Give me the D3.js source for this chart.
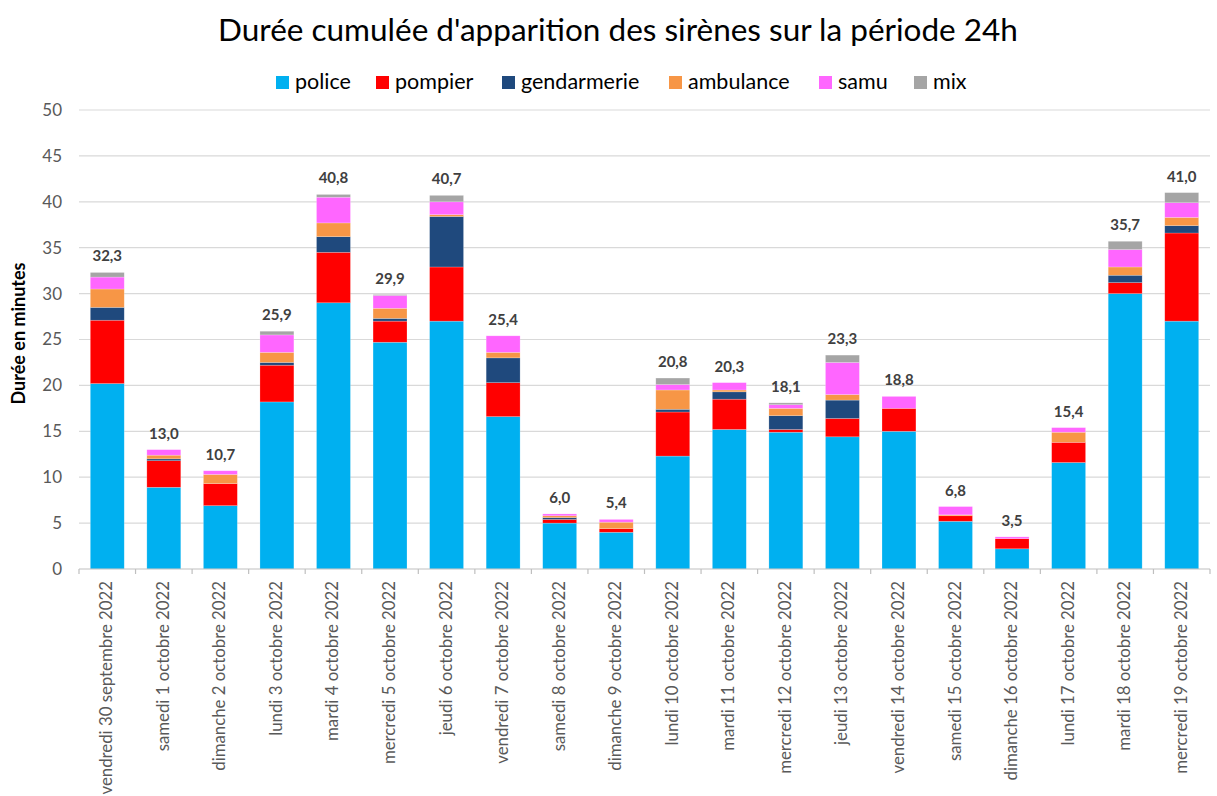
<!DOCTYPE html>
<html>
<head>
<meta charset="utf-8">
<script src="https://cdn.jsdelivr.net/npm/d3@7"></script>
<style>
  html, body { margin: 0; padding: 0; background: #fff; }
  svg { display: block; font-family: Lato, "Open Sans", sans-serif; }
</style>
</head>
<body>
<svg id="chart" width="1217" height="796"></svg>
<script>
const categories = [
  "vendredi 30 septembre 2022", "samedi 1 octobre 2022", "dimanche 2 octobre 2022",
  "lundi 3 octobre 2022", "mardi 4 octobre 2022", "mercredi 5 octobre 2022",
  "jeudi 6 octobre 2022", "vendredi 7 octobre 2022", "samedi 8 octobre 2022",
  "dimanche 9 octobre 2022", "lundi 10 octobre 2022", "mardi 11 octobre 2022",
  "mercredi 12 octobre 2022", "jeudi 13 octobre 2022", "vendredi 14 octobre 2022",
  "samedi 15 octobre 2022", "dimanche 16 octobre 2022", "lundi 17 octobre 2022",
  "mardi 18 octobre 2022", "mercredi 19 octobre 2022"
];
const seriesNames = ["police", "pompier", "gendarmerie", "ambulance", "samu", "mix"];
const police      = [20.2, 8.9, 6.9, 18.2, 29.0, 24.7, 27.0, 16.6, 5.0, 4.0, 12.3, 15.2, 14.9, 14.4, 15.0, 5.2, 2.2, 11.6, 30.0, 27.0];
const pompier     = [6.9, 2.9, 2.4, 4.0, 5.5, 2.3, 5.9, 3.7, 0.4, 0.4, 4.8, 3.3, 0.3, 2.0, 2.5, 0.6, 1.1, 2.2, 1.2, 9.6];
const gendarmerie = [1.4, 0.2, 0.0, 0.3, 1.7, 0.3, 5.5, 2.7, 0.2, 0.0, 0.3, 0.8, 1.5, 2.0, 0.0, 0.0, 0.0, 0.0, 0.8, 0.8];
const ambulance   = [2.0, 0.4, 1.0, 1.1, 1.5, 1.1, 0.2, 0.6, 0.2, 0.7, 2.1, 0.2, 0.8, 0.6, 0.0, 0.1, 0.0, 1.1, 0.9, 0.9];
const samu        = [1.3, 0.6, 0.4, 1.9, 2.8, 1.4, 1.4, 1.8, 0.2, 0.3, 0.6, 0.8, 0.4, 3.5, 1.3, 0.9, 0.2, 0.5, 1.9, 1.6];
const mix         = [0.5, 0.0, 0.0, 0.4, 0.3, 0.1, 0.7, 0.0, 0.0, 0.0, 0.7, 0.0, 0.2, 0.8, 0.0, 0.0, 0.0, 0.0, 0.9, 1.1];
const yTicks = [0, 5, 10, 15, 20, 25, 30, 35, 40, 45, 50];
const colors = ["#00B0F0", "#FF0000", "#1F497D", "#F79646", "#FF66FF", "#A5A5A5"];
const titleText = "Durée cumulée d'apparition des sirènes sur la période 24h";
const yTitle = "Durée en minutes";

const seriesValues = [police, pompier, gendarmerie, ambulance, samu, mix];
const rows = categories.map((c, i) => {
  const r = { cat: c };
  seriesNames.forEach((s, j) => r[s] = seriesValues[j][i]);
  return r;
});
const totals = categories.map((c, i) => d3.sum(seriesValues, s => s[i]));

const svg = d3.select("#chart");
const pLeft = 79, pRight = 1210, pTop = 110, pBottom = 569;

const x = d3.scaleBand().domain(categories).range([pLeft, pRight]).paddingInner(0.4).paddingOuter(0.2);
const y = d3.scaleLinear().domain([0, 50]).range([pBottom, pTop]);

// grid
svg.append("g").selectAll("line").data(yTicks.filter(t => t > 0)).join("line")
  .attr("x1", pLeft).attr("x2", pRight)
  .attr("y1", d => y(d)).attr("y2", d => y(d))
  .attr("stroke", "#d9d9d9").attr("stroke-width", 1.2);

// y axis labels
svg.append("g").selectAll("text").data(yTicks).join("text")
  .attr("x", 62).attr("y", d => y(d)).attr("dy", "0.35em")
  .attr("text-anchor", "end").attr("font-size", 17).attr("fill", "#595959")
  .text(d => d);

// stacks
const stack = d3.stack().keys(seriesNames)(rows);
svg.append("g").selectAll("g").data(stack).join("g")
  .attr("fill", (d, i) => colors[i])
  .selectAll("rect").data(d => d).join("rect")
  .attr("x", d => x(d.data.cat))
  .attr("width", x.bandwidth())
  .attr("y", d => y(d[1]))
  .attr("height", d => Math.max(0, y(d[0]) - y(d[1])))
  .attr("stroke", "#ffffff").attr("stroke-opacity", 0.35).attr("stroke-width", 0.6);

// total labels
svg.append("g").selectAll("text").data(categories).join("text")
  .attr("x", d => x(d) + x.bandwidth() / 2)
  .attr("y", (d, i) => y(totals[i]) - 11)
  .attr("text-anchor", "middle").attr("font-size", 15).attr("font-weight", "bold")
  .attr("fill", "#404040")
  .text((d, i) => d3.format(".1f")(totals[i]).replace(".", ","));

// x axis
const ax = svg.append("g").attr("transform", `translate(0,${pBottom})`);
ax.append("line").attr("x1", pLeft).attr("x2", pRight).attr("y1", 0).attr("y2", 0)
  .attr("stroke", "#bfbfbf").attr("stroke-width", 1.2);
const boundaries = d3.range(categories.length + 1).map(i => pLeft + i * (pRight - pLeft) / categories.length);
ax.selectAll("line.tk").data(boundaries).join("line").attr("class", "tk")
  .attr("x1", d => d).attr("x2", d => d).attr("y1", 0).attr("y2", 5)
  .attr("stroke", "#bfbfbf").attr("stroke-width", 1.2);
ax.selectAll("text").data(categories).join("text")
  .attr("transform", d => `translate(${x(d) + x.bandwidth() / 2 + 5},${12}) rotate(-90)`)
  .attr("text-anchor", "end").attr("font-size", 16.8).attr("fill", "#595959")
  .text(d => d);

// y title
svg.append("text")
  .attr("transform", `translate(25,${(pTop + pBottom) / 2 - 6}) rotate(-90)`)
  .attr("text-anchor", "middle").attr("font-size", 18).attr("font-weight", "bold")
  .attr("fill", "#000").text(yTitle);

// title
svg.append("text").attr("x", 618).attr("y", 41).attr("text-anchor", "middle")
  .attr("font-size", 31.5).attr("fill", "#000").text(titleText);

// legend
const legendX = [276, 376, 502, 669, 819, 914];
const lg = svg.append("g").selectAll("g").data(seriesNames).join("g")
  .attr("transform", (d, i) => `translate(${legendX[i]},0)`);
lg.append("rect").attr("x", 0).attr("y", 76).attr("width", 13).attr("height", 13)
  .attr("fill", (d, i) => colors[i]);
lg.append("text").attr("x", 19).attr("y", 89).attr("font-size", 21.5).attr("fill", "#000")
  .text(d => d);
</script>
</body>
</html>
